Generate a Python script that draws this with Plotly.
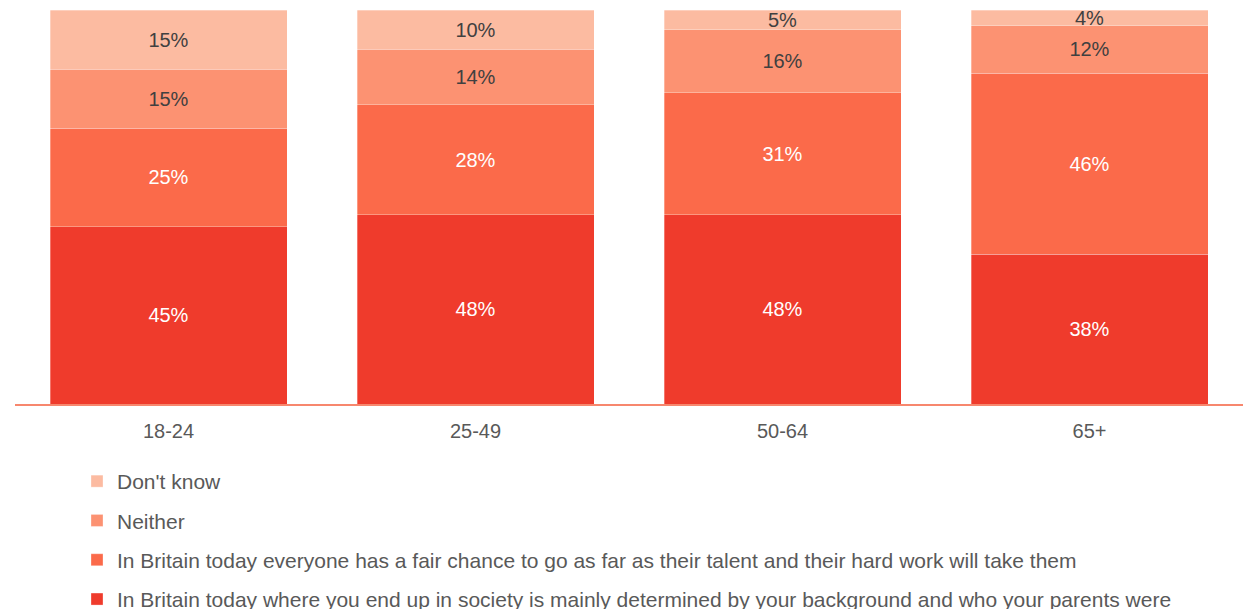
import plotly.graph_objects as go

categories = ["18-24", "25-49", "50-64", "65+"]
background = [45, 48, 48, 38]
fair_chance = [25, 28, 31, 46]
neither = [15, 14, 16, 12]
dont_know = [15, 10, 5, 4]

series = [
    ("In Britain today where you end up in society is mainly determined by your background and who your parents were",
     background, "#EF3B2C", "white"),
    ("In Britain today everyone has a fair chance to go as far as their talent and their hard work will take them",
     fair_chance, "#FB6A4A", "white"),
    ("Neither", neither, "#FC9272", "#404040"),
    ("Don't know", dont_know, "#FCBBA1", "#404040"),
]

fig = go.Figure()
for i, (name, vals, color, tcolor) in enumerate(series):
    fig.add_trace(go.Bar(
        x=categories, y=vals, name=name,
        marker=dict(color=color, line=dict(color="rgba(255,255,255,0.5)", width=0.6)),
        text=[f"{v}%" for v in vals],
        textposition="inside", insidetextanchor="middle", textangle=0,
        constraintext="none",
        textfont=dict(family="Liberation Sans, Arial, sans-serif", size=20, color=tcolor),
        legendgroup=f"g{i}",
        legendrank=10 - i,
        hoverinfo="skip",
    ))

fig.update_layout(
    barmode="stack",
    bargap=0.228,
    width=1243, height=609,
    margin=dict(l=15, r=0, t=10, b=205, autoexpand=False),
    plot_bgcolor="white", paper_bgcolor="white",
    font=dict(family="Liberation Sans, Arial, sans-serif", size=20, color="#595959"),
    showlegend=True,
    legend=dict(
        orientation="v", traceorder="grouped", tracegroupgap=9,
        xref="container", yref="container",
        x=77 / 1243, xanchor="left",
        y=(609 - 461) / 609, yanchor="top",
        font=dict(size=21, color="#595959"),
        bgcolor="rgba(0,0,0,0)",
    ),
    xaxis=dict(
        showline=True, linecolor="#F7876E", linewidth=1.5,
        ticks="", showgrid=False, zeroline=False, automargin=False,
        ticklabelstandoff=8,
        tickfont=dict(size=20, color="#595959"),
    ),
    yaxis=dict(
        range=[0, 100], visible=False, showgrid=False, zeroline=False,
    ),
)

fig.write_html(
    "out.html",
    config={"displayModeBar": False},
    post_script="document.body.style.margin='0';document.body.style.overflow='hidden';",
)
